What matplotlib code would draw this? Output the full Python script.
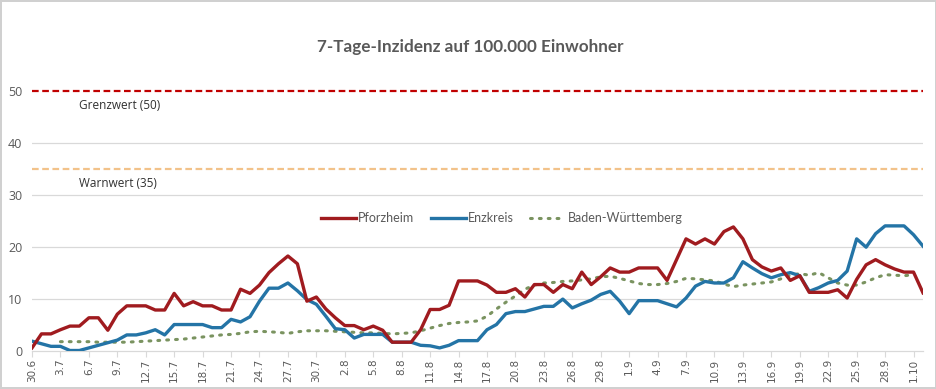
import matplotlib
matplotlib.use("Agg")
import matplotlib.pyplot as plt
import numpy as np

title = "7-Tage-Inzidenz auf 100.000 Einwohner"
series_names = ["Pforzheim", "Enzkreis", "Baden-Württemberg"]

pforzheim = [0.5, 3.2, 3.2, 4.0, 4.7, 4.7, 6.3, 6.3, 3.9, 7.0,
             8.6, 8.6, 8.6, 7.8, 7.8, 11.0, 8.6, 9.4, 8.6, 8.6,
             7.8, 7.8, 11.8, 11.0, 12.6, 15.0, 16.7, 18.2, 16.7, 9.5,
             10.3, 8.0, 6.3, 4.8, 4.8, 4.0, 4.7, 3.9, 1.6, 1.6,
             1.6, 4.0, 7.9, 7.9, 8.7, 13.4, 13.4, 13.4, 12.6, 11.2,
             11.2, 11.9, 10.3, 12.7, 12.7, 11.2, 12.7, 11.9, 15.1, 12.7,
             14.2, 15.9, 15.1, 15.1, 15.9, 15.9, 15.9, 13.5, 17.5, 21.5,
             20.5, 21.5, 20.5, 22.9, 23.8, 21.5, 17.5, 16.1, 15.3, 15.9,
             13.5, 14.4, 11.2, 11.2, 11.2, 11.7, 10.1, 13.7, 16.5, 17.5,
             16.5, 15.7, 15.1, 15.1, 11.1]

enzkreis = [1.8, 1.3, 0.8, 0.8, 0.0, 0.0, 0.5, 1.0, 1.5, 2.0,
            3.0, 3.0, 3.4, 4.0, 3.0, 5.0, 5.0, 5.0, 5.0, 4.4,
            4.4, 6.0, 5.5, 6.5, 9.5, 12.0, 12.0, 13.0, 11.5, 9.8,
            8.9, 6.6, 4.2, 4.0, 2.4, 3.1, 3.1, 3.1, 1.6, 1.6,
            1.6, 1.0, 0.9, 0.5, 1.0, 1.9, 1.9, 1.9, 4.0, 5.0,
            7.1, 7.5, 7.5, 8.0, 8.5, 8.5, 9.9, 8.2, 9.0, 9.7,
            10.8, 11.4, 9.5, 7.1, 9.6, 9.6, 9.6, 9.0, 8.4, 10.1,
            12.4, 13.3, 13.0, 13.0, 14.0, 17.1, 15.9, 14.8, 14.0, 14.6,
            15.0, 14.4, 11.4, 12.1, 13.0, 13.5, 15.3, 21.5, 19.9, 22.5,
            24.0, 24.0, 24.0, 22.3, 20.1]

bw = [np.nan, np.nan, np.nan, 1.7, 1.7, 1.7, 1.7, 1.6, 1.6, 1.6,
      1.6, 1.7, 1.8, 1.9, 2.0, 2.1, 2.2, 2.4, 2.6, 2.8,
      3.0, 3.1, 3.3, 3.6, 3.7, 3.6, 3.5, 3.3, 3.6, 3.8,
      3.8, 3.8, 3.7, 3.6, 3.5, 3.4, 3.4, 3.3, 3.2, 3.3,
      3.4, 3.8, 4.3, 4.8, 5.2, 5.4, 5.5, 5.7, 6.6, 8.0,
      9.3, 10.5, 11.8, 12.6, 13.0, 13.1, 13.3, 13.4, 13.6, 13.8,
      14.2, 14.3, 13.9, 13.4, 12.9, 12.7, 12.7, 12.9, 13.3, 13.9,
      13.8, 13.6, 13.4, 12.8, 12.3, 12.6, 12.8, 13.0, 13.2, 13.8,
      14.5, 14.8, 14.5, 15.0, 14.0, 13.0, 12.6, 12.6, 13.2, 14.0,
      14.6, 14.5, 14.4, 14.6, np.nan]

tick_labels = ["30.6", "3.7", "6.7", "9.7", "12.7", "15.7", "18.7", "21.7",
               "24.7", "27.7", "30.7", "2.8", "5.8", "8.8", "11.8", "14.8",
               "17.8", "20.8", "23.8", "26.8", "29.8", "1.9", "4.9", "7.9",
               "10.9", "13.9", "16.9", "19.9", "22.9", "25.9", "28.9", "1.10"]
tick_step = 3

grenzwert = 50
warnwert = 35
grenz_label = "Grenzwert (50)"
warn_label = "Warnwert (35)"

c_red = "#a01b1f"
c_blue = "#2474a6"
c_green = "#7a9360"
c_text = "#595959"
c_grid = "#d9d9d9"

fig = plt.figure(figsize=(9.37, 3.89), dpi=100)
fig.patch.set_facecolor("white")
fig.patch.set_edgecolor("#d0d0d0")
fig.patch.set_linewidth(1.5)

ax = fig.add_axes([32/937, 1 - 350.5/389, 891/937, 270/389])
x = np.arange(len(pforzheim))

ax.set_xlim(0, len(pforzheim) - 1)
ax.set_ylim(0, 52)

for v in [10, 20, 30, 40]:
    ax.axhline(v, color=c_grid, lw=0.9, zorder=0)

ax.axhline(grenzwert, color="#c00000", lw=1.6, ls=(0, (3, 1.6)), zorder=1, clip_on=False)
ax.axhline(warnwert, color="#f2c28a", lw=1.6, ls=(0, (3, 1.6)), zorder=1)

ax.text(5, grenzwert - 2.8, grenz_label, fontsize=8.5, color="#303030",
        family="Open Sans", va="center", ha="left")
ax.text(5, warnwert - 2.8, warn_label, fontsize=8.5, color="#303030",
        family="Open Sans", va="center", ha="left")

ax.plot(x, pforzheim, color=c_red, lw=2.4, label=series_names[0], zorder=4,
        solid_joinstyle="round")
ax.plot(x, enzkreis, color=c_blue, lw=2.4, label=series_names[1], zorder=3,
        solid_joinstyle="round")
ax.plot(x, bw, color=c_green, lw=2.2, ls=(0, (0.6, 2.3)), dash_capstyle="round",
        label=series_names[2], zorder=2)

ax.set_yticks([0, 10, 20, 30, 40, 50])
ax.set_yticklabels(["0", "10", "20", "30", "40", "50"])
ticks = np.arange(0, len(tick_labels) * tick_step, tick_step)
ax.set_xticks(ticks)
ax.set_xticklabels(tick_labels, rotation=90, fontsize=7.5, color=c_text,
                   family="DejaVu Sans")
for lab in ax.get_yticklabels():
    lab.set_fontsize(9)
    lab.set_color(c_text)
    lab.set_family("Open Sans")

for s in ["top", "right", "left"]:
    ax.spines[s].set_visible(False)
ax.spines["bottom"].set_color(c_grid)
ax.spines["bottom"].set_linewidth(0.9)
ax.tick_params(axis="x", length=4, color=c_grid, pad=2)
ax.tick_params(axis="y", length=0, pad=7)

leg = ax.legend(loc="center", bbox_to_anchor=(0.527, 25.5 / 52), ncol=3,
                frameon=False, handlelength=2.8, columnspacing=1.3,
                handletextpad=0.2, prop={"family": "Lato", "size": 9})
for t in leg.get_texts():
    t.set_color(c_text)

fig.text(470 / 937, 1 - 47 / 389, title, ha="center", va="center",
         fontsize=12.3, fontweight="bold", color=c_text, family="Lato")

fig.savefig("out.png", dpi=100, facecolor="white", edgecolor=fig.get_edgecolor())
